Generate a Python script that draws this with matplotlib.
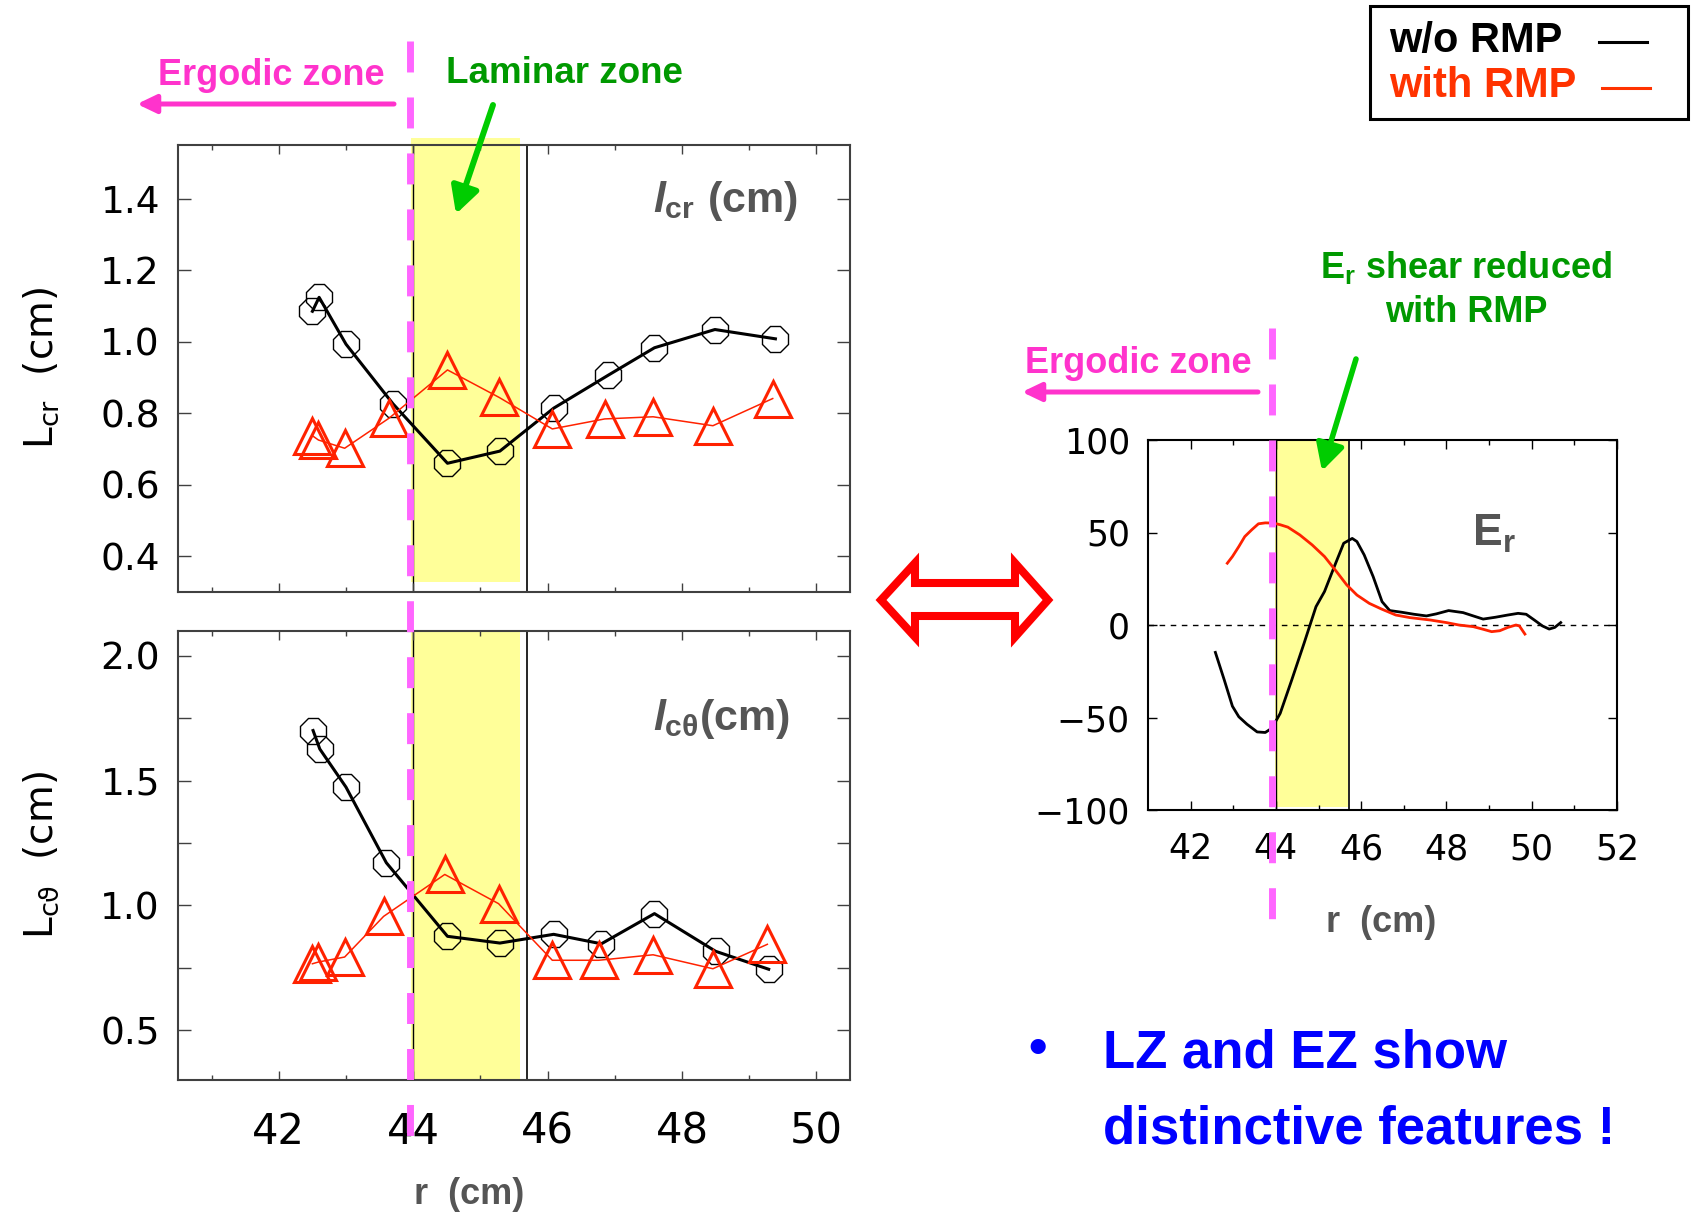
"""
RMP 유무에 따른 난류 상관길이 / 경계층 전기장 비교 그림
- 좌측: 반경 방향(L_cr), 극 방향(L_cθ) 상관길이
- 우측: 경계층 전기장 E_r 프로파일
"""

import matplotlib
matplotlib.use("Agg")
import matplotlib.pyplot as plt
from matplotlib.lines import Line2D
from matplotlib.patches import Rectangle, Polygon, FancyArrowPatch
from matplotlib.transforms import blended_transform_factory

W, H = 1691, 1214

# ── 데이터 ─────────────────────────────────────────────────────────
# 반경 방향 상관길이 l_cr (cm)
r_cr_wo = [42.50, 42.60, 43.00, 43.70, 44.51, 45.29, 46.09, 46.90, 47.59, 48.49, 49.39]
lcr_wo = [1.085, 1.124, 0.993, 0.826, 0.660, 0.694, 0.814, 0.906, 0.983, 1.034, 1.008]
r_cr_rmp = [42.50, 42.59, 42.98, 43.64, 44.51, 45.28, 46.07, 46.85, 47.57, 48.46, 49.35]
lcr_rmp = [0.737, 0.725, 0.702, 0.786, 0.921, 0.844, 0.756, 0.784, 0.790, 0.765, 0.841]

# 극 방향 상관길이 l_cθ (cm)
r_ct_wo = [42.51, 42.61, 43.00, 43.60, 44.51, 45.29, 46.09, 46.80, 47.59, 48.50, 49.29]
lct_wo = [1.701, 1.627, 1.474, 1.171, 0.876, 0.849, 0.884, 0.846, 0.967, 0.816, 0.744]
r_ct_rmp = [42.50, 42.59, 42.98, 43.56, 44.47, 45.27, 46.07, 46.76, 47.57, 48.46, 49.27]
lct_rmp = [0.766, 0.773, 0.793, 0.956, 1.124, 1.007, 0.780, 0.780, 0.802, 0.746, 0.844]

# 전기장 E_r 프로파일
r_er_wo = [42.58, 42.79, 42.98, 43.13, 43.32, 43.56, 43.75, 43.89, 43.99, 44.10,
           44.37, 44.66, 44.94, 45.14, 45.37, 45.59, 45.79, 45.90, 46.07, 46.28,
           46.49, 46.67, 46.95, 47.24, 47.53, 47.76, 48.05, 48.39, 48.63, 48.86,
           49.15, 49.44, 49.68, 49.87, 50.06, 50.25, 50.41, 50.54, 50.68]
er_wo = [-14.8, -29.8, -43.9, -49.6, -53.6, -57.8, -58.1, -56.0, -52.3, -47.8,
         -29.8, -9.9, 9.9, 18.1, 31.6, 44.2, 46.8, 45.1, 37.9, 26.2,
         12.6, 7.8, 6.9, 5.8, 4.9, 6.0, 7.8, 6.7, 4.9, 3.2,
         4.2, 5.4, 6.3, 5.8, 2.7, -0.5, -2.2, -1.3, 1.3]
r_er_rmp = [42.86, 42.98, 43.13, 43.27, 43.43, 43.59, 43.75, 43.94, 44.10, 44.28,
            44.56, 44.85, 45.14, 45.42, 45.66, 45.90, 46.19, 46.47, 46.81, 47.14,
            47.62, 48.00, 48.29, 48.63, 48.86, 49.06, 49.25, 49.44, 49.63, 49.71,
            49.84]
er_rmp = [33.4, 37.0, 42.4, 47.8, 51.4, 54.7, 55.2, 55.1, 54.2, 52.9,
          48.7, 43.3, 37.0, 28.9, 21.7, 16.2, 11.7, 8.7, 5.4, 4.0,
          2.7, 1.3, 0.0, -0.9, -2.3, -3.6, -3.1, -1.3, 0.0, -0.5,
          -4.9]

# 영역 경계 (cm)
EZ_EDGE = 43.95
LZ_LEFT, LZ_RIGHT = 43.97, 45.59
LZ_LINE = 45.69

BLACK = "black"
RED = "#ff2200"
MAGENTA_LINE = "#ff66ff"
MAGENTA = "#ff33cc"
GREEN_TXT = "#009900"
GREEN_ARR = "#00cc00"
GRAY_TXT = "#555555"
YELLOW = "#ffff99"
BOLD = "Liberation Sans"


def fx(x):
    return x / W


def fy(y):
    return 1 - y / H


def style_axes(ax, spine_color, ylen):
    for s in ax.spines.values():
        s.set_color(spine_color)
        s.set_linewidth(1.5)
    ax.tick_params(which="both", direction="in", top=True, right=True,
                   color=spine_color, width=1.0)
    ax.tick_params(axis="x", which="major", length=6.5)
    ax.tick_params(axis="x", which="minor", length=3.6)
    ax.tick_params(axis="y", which="major", length=ylen)


def arrow(fig, p0, p1, color, lw, hl, hw):
    fig.add_artist(FancyArrowPatch(
        (fx(p0[0]), fy(p0[1])), (fx(p1[0]), fy(p1[1])),
        transform=fig.transFigure, color=color, lw=lw,
        arrowstyle=f"-|>,head_length={hl},head_width={hw}",
        mutation_scale=1, shrinkA=0, shrinkB=0))


def ftext(fig, x, y, s, **kw):
    kw.setdefault("va", "baseline")
    kw.setdefault("ha", "left")
    fig.text(fx(x), fy(y), s, **kw)


def main():
    plt.rcParams["font.family"] = ["DejaVu Sans"]
    plt.rcParams["mathtext.fontset"] = "custom"
    plt.rcParams["mathtext.rm"] = "Liberation Sans:bold"
    plt.rcParams["mathtext.it"] = "Liberation Sans:bold:italic"
    plt.rcParams["mathtext.bf"] = "Liberation Sans:bold"
    plt.rcParams["mathtext.sf"] = "DejaVu Sans"

    fig = plt.figure(figsize=(W / 100, H / 100), dpi=100)

    ax1 = fig.add_axes([178 / W, fy(592), 672 / W, 447 / H])
    ax2 = fig.add_axes([178 / W, fy(1080), 672 / W, 449 / H])
    ax3 = fig.add_axes([1148 / W, fy(810), 469 / W, 370 / H])

    # ── 좌측 상단: l_cr ───────────────────────────────────────────────
    ax1.add_patch(Rectangle((LZ_LEFT, 0.329), LZ_RIGHT - LZ_LEFT, 1.57 - 0.329,
                            facecolor=YELLOW, edgecolor="none", clip_on=False, zorder=0.5))
    ax1.axvline(44.0, color=BLACK, lw=1.0, zorder=1)
    ax1.axvline(LZ_LINE, color=BLACK, lw=1.2, zorder=1)
    ax1.plot(r_cr_wo, lcr_wo, color=BLACK, lw=2.2, marker="8", ms=20,
             mfc="none", mec=BLACK, mew=1.0, zorder=3)
    ax1.plot(r_cr_rmp, lcr_rmp, color=RED, lw=1.1, marker="^", ms=26,
             mfc="none", mec=RED, mew=2.2, zorder=3)
    ax1.set_xlim(40.5, 50.5)
    ax1.set_ylim(0.30, 1.55)
    ax1.set_xticks([42, 44, 46, 48, 50])
    ax1.set_xticks([41, 43, 45, 47, 49], minor=True)
    ax1.set_xticklabels([])
    ax1.set_yticks([0.4, 0.6, 0.8, 1.0, 1.2, 1.4])
    ax1.set_yticklabels(["0.4", "0.6", "0.8", "1.0", "1.2", "1.4"])
    style_axes(ax1, "#404040", 9.4)
    ax1.tick_params(axis="y", labelsize=27, pad=13)
    ax1.text(0.707, 0.85, r"$\mathit{l}_{\mathrm{cr}}\ \mathrm{(cm)}$", transform=ax1.transAxes,
             fontsize=31, color=GRAY_TXT, va="baseline")

    # ── 좌측 하단: l_cθ ───────────────────────────────────────────────
    ax2.axvspan(LZ_LEFT, LZ_RIGHT, color=YELLOW, lw=0, zorder=0.5)
    ax2.axvline(44.0, color=BLACK, lw=1.0, zorder=1)
    ax2.axvline(LZ_LINE, color=BLACK, lw=1.2, zorder=1)
    ax2.plot(r_ct_wo, lct_wo, color=BLACK, lw=2.2, marker="8", ms=20,
             mfc="none", mec=BLACK, mew=1.0, zorder=3)
    ax2.plot(r_ct_rmp, lct_rmp, color=RED, lw=1.1, marker="^", ms=26,
             mfc="none", mec=RED, mew=2.2, zorder=3)
    ax2.set_xlim(40.5, 50.5)
    ax2.set_ylim(0.30, 2.10)
    ax2.set_xticks([42, 44, 46, 48, 50])
    ax2.set_xticks([41, 43, 45, 47, 49], minor=True)
    ax2.set_yticks([0.5, 0.75, 1.0, 1.25, 1.5, 1.75, 2.0])
    ax2.set_yticklabels(["0.5", "", "1.0", "", "1.5", "", "2.0"])
    style_axes(ax2, "#404040", 9.4)
    ax2.tick_params(axis="y", labelsize=27, pad=13)
    ax2.tick_params(axis="x", labelsize=30, pad=22)
    ax2.text(0.707, 0.78, r"$\mathit{l}_{\mathrm{c\theta}}\mathrm{(cm)}$", transform=ax2.transAxes,
             fontsize=31, color=GRAY_TXT, va="baseline")

    # ── 우측: E_r ─────────────────────────────────────────────────────
    ax3.axvspan(LZ_LEFT, LZ_LINE, ymin=0.008, ymax=1.0, color=YELLOW, lw=0, zorder=0.5)
    ax3.axvline(44.0, color=BLACK, lw=1.0, zorder=1)
    ax3.axvline(45.71, color=BLACK, lw=1.2, zorder=1)
    ax3.axhline(0, color=BLACK, lw=1.0, linestyle=(0, (4, 4)), zorder=1)
    ax3.plot(r_er_wo, er_wo, color=BLACK, lw=2.0, zorder=3)
    ax3.plot(r_er_rmp, er_rmp, color=RED, lw=2.0, zorder=3)
    ax3.set_xlim(41, 52)
    ax3.set_ylim(-100, 100)
    ax3.set_xticks([42, 44, 46, 48, 50, 52])
    ax3.set_xticks([43, 45, 47, 49, 51], minor=True)
    ax3.set_yticks([-100, -50, 0, 50, 100])
    style_axes(ax3, BLACK, 6.5)
    ax3.tick_params(axis="both", labelsize=25)
    ax3.tick_params(axis="x", pad=16)
    ax3.tick_params(axis="y", pad=13)
    ax3.text(0.69, 0.715, r"$\mathrm{E}_{\mathrm{r}}$", transform=ax3.transAxes,
             fontsize=32, color=GRAY_TXT, va="baseline")

    # ── 축 제목 ───────────────────────────────────────────────────────
    fig.text(fx(41), fy(368), r"L$_{\mathsf{cr}}$  (cm)", rotation=90,
             fontsize=28, ha="center", va="center")
    fig.text(fx(41), fy(855), r"L$_{\mathsf{cϑ}}$  (cm)", rotation=90,
             fontsize=28, ha="center", va="center")
    ftext(fig, 469, 1194, "r  (cm)", family=BOLD, weight="bold", fontsize=26,
          color=GRAY_TXT, ha="center", va="center")
    ftext(fig, 1381, 922, "r  (cm)", family=BOLD, weight="bold", fontsize=26,
          color=GRAY_TXT, ha="center", va="center")

    # ── 영역 경계선 (ergodic / laminar) ───────────────────────────────
    dash = (0, (4.46, 3.6))
    tr1 = blended_transform_factory(ax1.transData, fig.transFigure)
    fig.add_artist(Line2D([EZ_EDGE, EZ_EDGE], [fy(41), fy(1136)], transform=tr1,
                          color=MAGENTA_LINE, lw=5, linestyle=dash))
    tr3 = blended_transform_factory(ax3.transData, fig.transFigure)
    fig.add_artist(Line2D([43.92, 43.92], [fy(328), fy(919)], transform=tr3,
                          color=MAGENTA_LINE, lw=5, linestyle=dash))

    # ── 주석 ──────────────────────────────────────────────────────────
    ftext(fig, 158, 85, "Ergodic zone", family=BOLD, weight="bold", fontsize=26, color=MAGENTA)
    arrow(fig, (394, 104), (137, 104), MAGENTA, 3.6, 11.5, 5.5)
    ftext(fig, 446, 83, "Laminar zone", family=BOLD, weight="bold", fontsize=26.5, color=GREEN_TXT)
    arrow(fig, (493, 105), (456, 214), GREEN_ARR, 4.3, 16, 8.5)

    ftext(fig, 1466, 278, r"$\mathrm{E}_{\mathrm{r}}$ shear reduced", family=BOLD,
          weight="bold", fontsize=26, color=GREEN_TXT, ha="center")
    ftext(fig, 1466, 322, "with RMP", family=BOLD, weight="bold", fontsize=26,
          color=GREEN_TXT, ha="center")
    ftext(fig, 1025, 373, "Ergodic zone", family=BOLD, weight="bold", fontsize=26, color=MAGENTA)
    arrow(fig, (1258, 392), (1022, 392), MAGENTA, 3.6, 11.5, 5.5)
    arrow(fig, (1356, 359), (1322, 471), GREEN_ARR, 4.0, 16, 8.5)

    # 범례 상자
    fig.add_artist(Rectangle((fx(1370), fy(119)), 318 / W, 113 / H, transform=fig.transFigure,
                             fill=False, edgecolor=BLACK, lw=2.2))
    ftext(fig, 1389, 52, "w/o RMP", family=BOLD, weight="bold", fontsize=30, color=BLACK)
    ftext(fig, 1389, 97, "with RMP", family=BOLD, weight="bold", fontsize=30, color="#ff3300")
    fig.add_artist(Line2D([fx(1599), fx(1647)], [fy(42), fy(42)], transform=fig.transFigure,
                          color=BLACK, lw=2.2))
    fig.add_artist(Line2D([fx(1602), fx(1650)], [fy(88), fy(88)], transform=fig.transFigure,
                          color="#ff3300", lw=2.2))

    # 양방향 화살표 (외곽선만)
    outline = [(881, 600), (915, 563), (915, 583), (1015, 583), (1015, 563),
               (1048, 600), (1015, 637), (1015, 616), (915, 616), (915, 637)]
    fig.add_artist(Polygon([(fx(x), fy(y)) for x, y in outline], closed=True,
                           transform=fig.transFigure, fill=False, edgecolor="#ff0000",
                           lw=5.8, joinstyle="miter"))

    # 요약 문구
    ftext(fig, 1038, 1050, "•", family=BOLD, weight="bold", fontsize=38,
          color="#0000ff", ha="center", va="center")
    ftext(fig, 1103, 1067, "LZ and EZ show", family=BOLD, weight="bold", fontsize=38, color="#0000ff")
    ftext(fig, 1103, 1143, "distinctive features !", family=BOLD, weight="bold", fontsize=38,
          color="#0000ff")

    fig.savefig("out.png", dpi=100)


if __name__ == "__main__":
    main()
